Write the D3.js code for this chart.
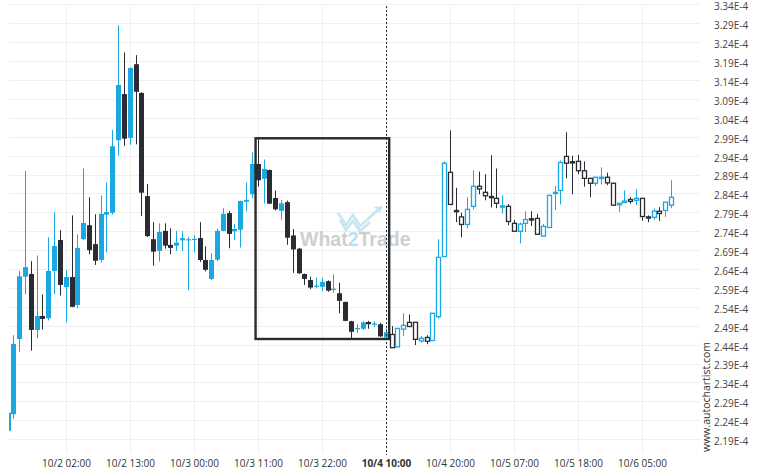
<!DOCTYPE html>
<html>
<head>
<meta charset="utf-8">
<script src="https://cdn.jsdelivr.net/npm/d3@7/dist/d3.min.js"></script>
<style>
  html, body { margin: 0; padding: 0; background: #ffffff; }
  svg { display: block; font-family: "Open Sans", "DejaVu Sans", sans-serif; }
</style>
</head>
<body>
<div id="chart"></div>
<script>
// candle values, in units of 1E-4
var opens = [
  2.212, 2.256, 2.455, 2.620, 2.627, 2.479, 2.516, 2.510, 2.635, 2.717,
  2.592, 2.619, 2.545, 2.719, 2.756, 2.706, 2.664, 2.784, 2.789, 2.981,
  3.103, 2.987, 3.182, 3.106, 2.833, 2.719, 2.688, 2.741, 2.704, 2.702,
  2.716, 2.717, 2.717, 2.722, 2.664, 2.614, 2.665, 2.741, 2.788, 2.740,
  2.744, 2.818, 2.838, 2.918, 2.879, 2.902, 2.828, 2.794, 2.817, 2.729,
  2.694, 2.627, 2.611, 2.593, 2.593, 2.608, 2.586, 2.576, 2.553, 2.502,
  2.482, 2.482, 2.500, 2.494, 2.494, 2.459, 2.467, 2.434, 2.481, 2.499,
  2.499, 2.450, 2.459, 2.451, 2.514, 2.673, 2.896, 2.795, 2.778, 2.758,
  2.806, 2.859, 2.843, 2.832, 2.827, 2.805, 2.806, 2.761, 2.740, 2.761,
  2.773, 2.774, 2.727, 2.750, 2.840, 2.848, 2.938, 2.924, 2.925, 2.900,
  2.880, 2.867, 2.881, 2.883, 2.867, 2.810, 2.816, 2.824, 2.822, 2.827,
  2.778, 2.777, 2.793, 2.795, 2.809
];
var highs = [
  2.262, 2.465, 2.635, 2.900, 2.661, 2.676, 2.573, 2.724, 2.790, 2.743,
  2.637, 2.782, 2.732, 2.906, 2.830, 2.785, 2.835, 2.869, 3.008, 3.285,
  3.213, 3.174, 3.206, 3.108, 2.865, 2.764, 2.761, 2.761, 2.748, 2.741,
  2.740, 2.725, 2.730, 2.764, 2.700, 2.682, 2.747, 2.801, 2.794, 2.759,
  2.821, 2.869, 2.949, 2.986, 2.930, 2.903, 2.848, 2.823, 2.821, 2.746,
  2.696, 2.628, 2.620, 2.618, 2.617, 2.610, 2.626, 2.604, 2.554, 2.503,
  2.494, 2.502, 2.503, 2.502, 2.498, 2.483, 2.489, 2.483, 2.523, 2.520,
  2.500, 2.463, 2.465, 2.523, 2.719, 2.925, 3.007, 2.855, 2.789, 2.830,
  2.901, 2.898, 2.891, 2.941, 2.906, 2.835, 2.812, 2.770, 2.763, 2.793,
  2.793, 2.786, 2.759, 2.836, 2.860, 2.927, 3.002, 2.940, 2.942, 2.925,
  2.881, 2.884, 2.909, 2.895, 2.868, 2.815, 2.848, 2.830, 2.852, 2.828,
  2.782, 2.800, 2.804, 2.818, 2.875
];
var lows = [
  2.210, 2.244, 2.421, 2.573, 2.424, 2.457, 2.480, 2.504, 2.573, 2.570,
  2.499, 2.539, 2.536, 2.717, 2.679, 2.651, 2.657, 2.684, 2.784, 2.940,
  2.966, 2.969, 2.970, 2.780, 2.725, 2.649, 2.660, 2.694, 2.679, 2.688,
  2.687, 2.584, 2.684, 2.659, 2.634, 2.611, 2.661, 2.740, 2.695, 2.717,
  2.697, 2.793, 2.827, 2.858, 2.814, 2.812, 2.795, 2.770, 2.704, 2.630,
  2.627, 2.598, 2.587, 2.589, 2.581, 2.580, 2.577, 2.523, 2.502, 2.455,
  2.471, 2.479, 2.482, 2.487, 2.460, 2.457, 2.432, 2.434, 2.463, 2.487,
  2.439, 2.445, 2.441, 2.450, 2.509, 2.672, 2.810, 2.764, 2.724, 2.748,
  2.798, 2.838, 2.822, 2.803, 2.801, 2.787, 2.756, 2.739, 2.708, 2.738,
  2.754, 2.731, 2.726, 2.749, 2.796, 2.811, 2.880, 2.838, 2.891, 2.858,
  2.830, 2.860, 2.864, 2.862, 2.808, 2.791, 2.816, 2.813, 2.809, 2.768,
  2.764, 2.770, 2.767, 2.778, 2.801
];
var closes = [
  2.260, 2.442, 2.621, 2.645, 2.479, 2.516, 2.508, 2.635, 2.701, 2.598,
  2.619, 2.540, 2.696, 2.762, 2.690, 2.662, 2.786, 2.791, 2.965, 3.127,
  2.985, 3.172, 3.109, 2.842, 2.727, 2.686, 2.738, 2.702, 2.696, 2.710,
  2.722, 2.719, 2.720, 2.664, 2.638, 2.664, 2.741, 2.786, 2.733, 2.746,
  2.820, 2.823, 2.918, 2.875, 2.905, 2.813, 2.798, 2.814, 2.723, 2.692,
  2.629, 2.614, 2.591, 2.596, 2.606, 2.583, 2.588, 2.556, 2.503, 2.474,
  2.484, 2.499, 2.494, 2.496, 2.462, 2.473, 2.432, 2.483, 2.491, 2.488,
  2.454, 2.457, 2.449, 2.523, 2.671, 2.920, 2.811, 2.793, 2.758, 2.798,
  2.859, 2.852, 2.834, 2.830, 2.814, 2.807, 2.766, 2.740, 2.759, 2.771,
  2.772, 2.732, 2.753, 2.835, 2.843, 2.922, 2.920, 2.922, 2.900, 2.880,
  2.867, 2.883, 2.883, 2.868, 2.809, 2.814, 2.820, 2.819, 2.827, 2.779,
  2.776, 2.793, 2.787, 2.817, 2.830
];

var xTickIndex = [10, 21, 32, 43, 54, 65, 76, 87, 98, 109];
var xTickLabels = ["10/2 02:00", "10/2 13:00", "10/3 00:00", "10/3 11:00", "10/3 22:00",
  "10/4 10:00", "10/4 20:00", "10/5 07:00", "10/5 18:00", "10/6 05:00"];
var yTickValues = [3.34, 3.29, 3.24, 3.19, 3.14, 3.09, 3.04, 2.99, 2.94, 2.89, 2.84, 2.79,
  2.74, 2.69, 2.64, 2.59, 2.54, 2.49, 2.44, 2.39, 2.34, 2.29, 2.24, 2.19];

// pattern box (first and last candle) and the signal candle
var patternStart = 43, patternEnd = 65, signalIndex = 65;

var data = opens.map(function (o, i) {
  return { i: i, open: o, high: highs[i], low: lows[i], close: closes[i] };
});

var width = 760, height = 475;
var plot = { left: 9, right: 700, top: 6, bottom: 452 };
var blue = "#1ba7e1", dark = "#2b2b33";

var svg = d3.select("#chart").append("svg")
  .attr("width", width)
  .attr("height", height);

var x = d3.scaleLinear().domain([0, opens.length - 1]).range([7.5, 671]);
var y = d3.scaleLinear().domain([2.156, 3.336]).range([plot.bottom, plot.top]);

function px(i) { return Math.round(x(i)) + 0.5; }

// grid
svg.append("g")
  .selectAll("line")
  .data(yTickValues)
  .enter()
  .append("line")
  .attr("x1", plot.left)
  .attr("x2", plot.right)
  .attr("y1", function (d) { return Math.round(y(d)) + 0.5; })
  .attr("y2", function (d) { return Math.round(y(d)) + 0.5; })
  .attr("stroke", "#efefef");

svg.append("g")
  .selectAll("line")
  .data(xTickIndex)
  .enter()
  .append("line")
  .attr("x1", function (d) { return px(d); })
  .attr("x2", function (d) { return px(d); })
  .attr("y1", plot.top)
  .attr("y2", plot.bottom + 1)
  .attr("stroke", "#efefef");

// y labels
svg.append("g")
  .selectAll("text")
  .data(yTickValues)
  .enter()
  .append("text")
  .attr("x", 714)
  .attr("y", function (d) { return y(d) + 2.4; })
  .attr("dy", "0.35em")
  .style("font-size", "10px")
  .attr("fill", "#444")
  .text(function (d) { return d.toFixed(2) + "E-4"; });

// x labels
svg.append("g")
  .selectAll("text")
  .data(xTickIndex)
  .enter()
  .append("text")
  .attr("x", function (d) { return px(d); })
  .attr("y", 467)
  .attr("text-anchor", "middle")
  .style("font-size", "10px")
  .style("font-weight", function (d) { return d === signalIndex ? "bold" : "normal"; })
  .attr("fill", "#333")
  .text(function (d, k) { return xTickLabels[k]; });

// watermark
var wm = svg.append("g").attr("opacity", 0.8);
wm.append("path")
  .attr("d", "M338,213 L346,225 L353,215 L360,226 L379,209")
  .attr("fill", "none")
  .attr("stroke", "#b9dff3")
  .attr("stroke-width", 2.6);
wm.append("path")
  .attr("d", "M340,220 L346,230 L353,221 L360,231 L370,222")
  .attr("fill", "none")
  .attr("stroke", "#b9dff3")
  .attr("stroke-width", 2.6);
wm.append("path")
  .attr("d", "M383,206 L374,207 L380,213 Z")
  .attr("fill", "#b9dff3");
var wmText = wm.append("text")
  .attr("x", 300)
  .attr("y", 246)
  .style("font-family", "'Liberation Sans', Arial, sans-serif")
  .style("font-size", "19.5px")
  .style("font-weight", "bold")
  .attr("fill", "#c4c4c4");
wmText.append("tspan").text("What");
wmText.append("tspan").attr("fill", "#a9d9f1").text("2");
wmText.append("tspan").text("Trade");

// candles
var candles = svg.append("g");
var clip = svg.append("clipPath").attr("id", "plotclip");
clip.append("rect")
  .attr("x", plot.left)
  .attr("y", 0)
  .attr("width", plot.right - plot.left)
  .attr("height", height);
candles.attr("clip-path", "url(#plotclip)");

function col(d) { return d.close >= d.open ? blue : dark; }

candles.selectAll(".wick")
  .data(data)
  .enter()
  .append("line")
  .attr("class", "wick")
  .attr("x1", function (d) { return px(d.i); })
  .attr("x2", function (d) { return px(d.i); })
  .attr("y1", function (d) { return y(d.high); })
  .attr("y2", function (d) { return y(d.low); })
  .attr("stroke", col)
  .attr("stroke-width", 1);

candles.selectAll(".body")
  .data(data)
  .enter()
  .append("rect")
  .attr("class", "body")
  .attr("x", function (d) {
    return d.i > signalIndex ? Math.round(x(d.i)) - 1.5 : Math.round(x(d.i)) - 2;
  })
  .attr("width", function (d) { return d.i > signalIndex ? 4 : 5; })
  .attr("y", function (d) { return y(Math.max(d.open, d.close)); })
  .attr("height", function (d) {
    return Math.max(1.2, Math.abs(y(d.open) - y(d.close)));
  })
  .attr("fill", function (d) { return d.i > signalIndex ? "#ffffff" : col(d); })
  .attr("stroke", function (d) { return d.i > signalIndex ? col(d) : "none"; })
  .attr("stroke-width", 1.3);

// pattern rectangle
var boxTop = d3.max(data.slice(patternStart, patternEnd + 1), function (d) { return d.high; });
var boxBottom = d3.min(data.slice(patternStart, patternEnd + 1), function (d) { return d.low; });
svg.append("rect")
  .attr("x", x(patternStart) - 2.2)
  .attr("y", y(boxTop))
  .attr("width", x(patternEnd) - x(patternStart) + 5.6)
  .attr("height", y(boxBottom) - y(boxTop))
  .attr("fill", "none")
  .attr("stroke", "#2a2a2a")
  .attr("stroke-width", 2.4);

// signal line
svg.append("line")
  .attr("x1", px(signalIndex))
  .attr("x2", px(signalIndex))
  .attr("y1", plot.top)
  .attr("y2", plot.bottom + 3)
  .attr("stroke", "#1d3340")
  .attr("stroke-width", 1)
  .attr("stroke-dasharray", "2,2");

// site credit
svg.append("text")
  .attr("transform", "translate(710,452) rotate(-90)")
  .style("font-size", "10.5px")
  .attr("fill", "#333")
  .text("www.autochartist.com");
</script>
</body>
</html>
